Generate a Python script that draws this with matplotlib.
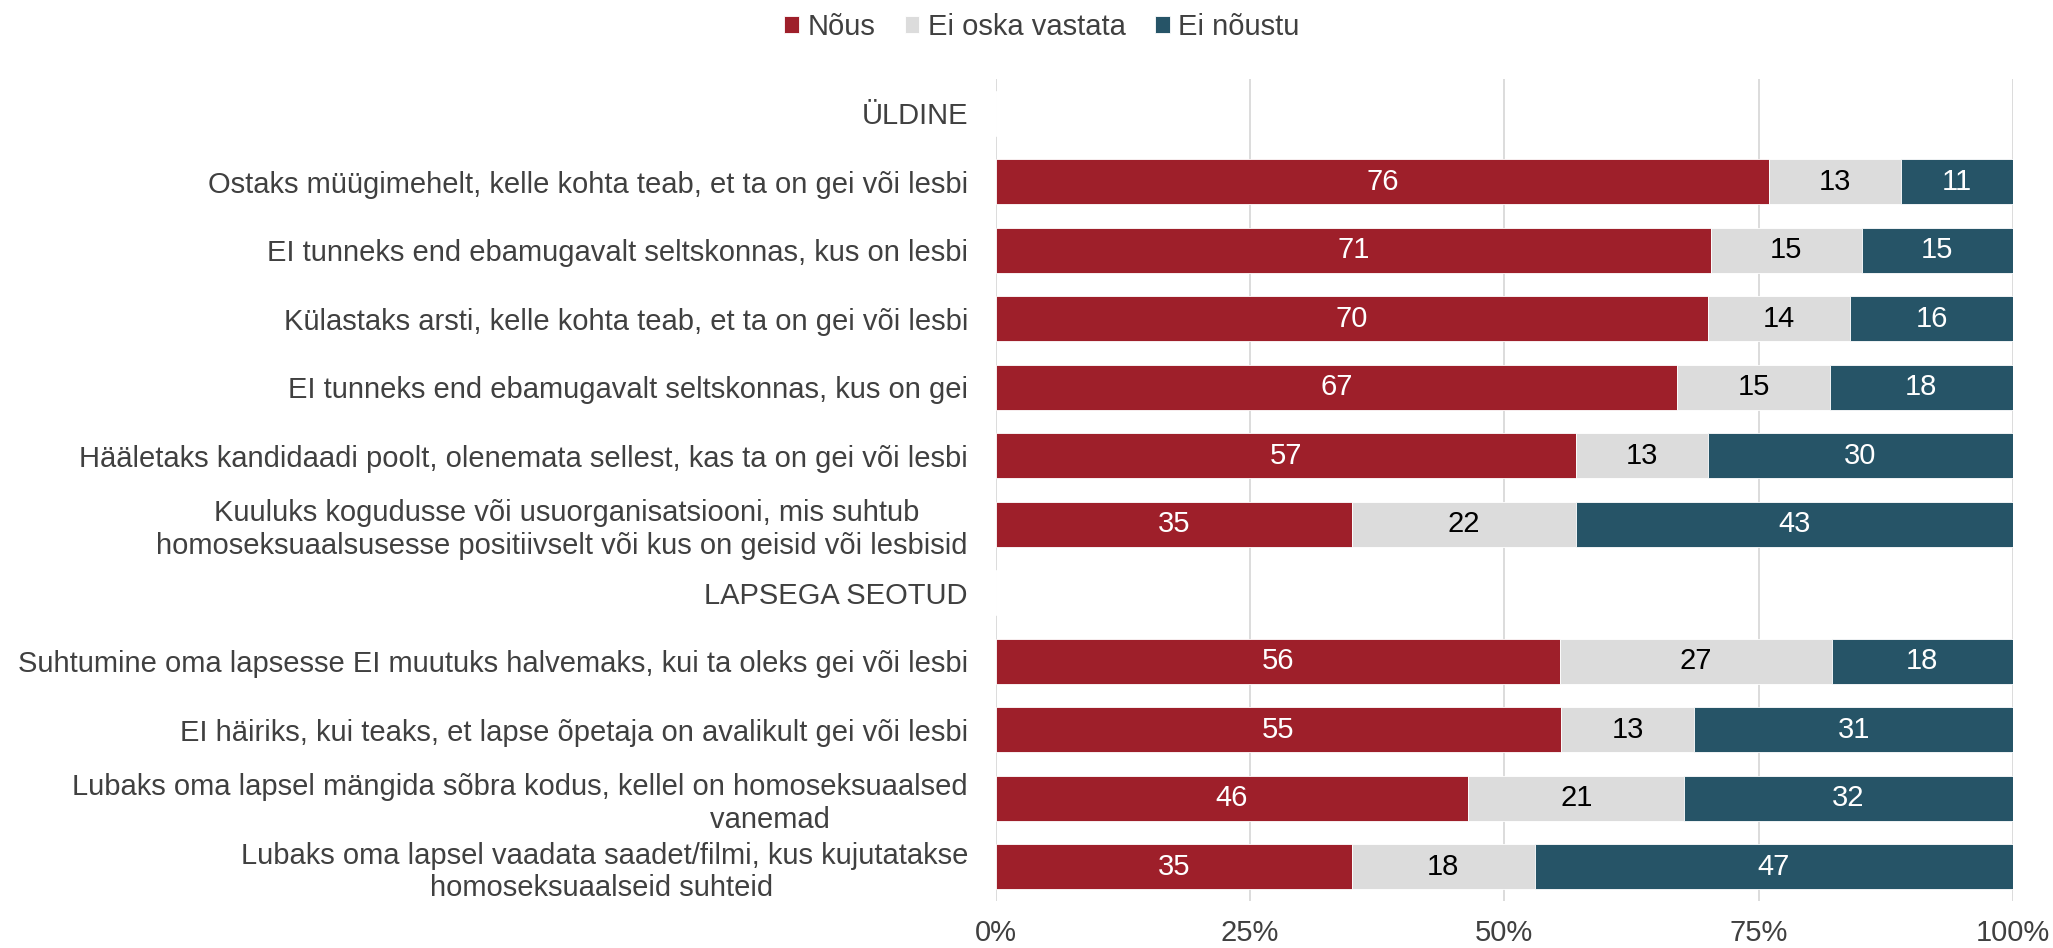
import matplotlib
matplotlib.use("Agg")
import matplotlib.pyplot as plt
import numpy as np

plt.rcParams['font.family'] = ['Liberation Sans', 'DejaVu Sans']

categories = [
    "ÜLDINE",
    "Ostaks müügimehelt, kelle kohta teab, et ta on gei või lesbi",
    "EI tunneks end ebamugavalt seltskonnas, kus on lesbi",
    "Külastaks arsti, kelle kohta teab, et ta on gei või lesbi",
    "EI tunneks end ebamugavalt seltskonnas, kus on gei",
    "Hääletaks kandidaadi poolt, olenemata sellest, kas ta on gei või lesbi",
    "Kuuluks kogudusse või usuorganisatsiooni, mis suhtub" + " " * 6 + "\nhomoseksuaalsusesse positiivselt või kus on geisid või lesbisid",
    "LAPSEGA SEOTUD",
    "Suhtumine oma lapsesse EI muutuks halvemaks, kui ta oleks gei või lesbi",
    "EI häiriks, kui teaks, et lapse õpetaja on avalikult gei või lesbi",
    "Lubaks oma lapsel mängida sõbra kodus, kellel on homoseksuaalsed\nvanemad" + " " * 17,
    "Lubaks oma lapsel vaadata saadet/filmi, kus kujutatakse\nhomoseksuaalseid suhteid" + " " * 24,
]
nous = [None, 76, 71, 70, 67, 57, 35, None, 56, 55, 46, 35]
ei_oska = [None, 13, 15, 14, 15, 13, 22, None, 27, 13, 21, 18]
ei_noustu = [None, 11, 15, 16, 18, 30, 43, None, 18, 31, 32, 47]
series_names = ["Nõus", "Ei oska vastata", "Ei nõustu"]
colors = ["#9E1F2A", "#DCDCDC", "#265467"]
label_colors = ["white", "black", "white"]
xticks = [0, 25, 50, 75, 100]
xticklabels = ["0%", "25%", "50%", "75%", "100%"]

FS = 21
fig = plt.figure(figsize=(20.53, 9.48), dpi=100)
ax = fig.add_axes([0.485, 0.0496, 0.4955, 0.867])

n = len(categories)
y = np.arange(n)
series = [nous, ei_oska, ei_noustu]
totals = np.array([np.nan if nous[i] is None else nous[i] + ei_oska[i] + ei_noustu[i] for i in range(n)], dtype=float)
left = np.zeros(n)
for s, name, c, lc in zip(series, series_names, colors, label_colors):
    vals = np.array([np.nan if v is None else v for v in s], dtype=float)
    w = np.nan_to_num(vals / totals * 100)
    ax.barh(y, w, left=left, height=0.655, color=c, label=name, edgecolor='white', linewidth=0.6, zorder=3)
    for i in range(n):
        if not np.isnan(vals[i]):
            ax.text(left[i] + w[i] / 2, y[i], f"{int(vals[i])}", ha='center', va='center',
                    color=lc, fontsize=FS, zorder=4)
    left = left + w

ax.set_ylim(n - 0.5, -0.5)
ax.set_xlim(0, 100)
ax.set_yticks(y)
ax.set_yticklabels(categories, fontsize=FS, color='#404040', multialignment='right')
ax.set_xticks(xticks)
ax.set_xticklabels(xticklabels, fontsize=FS, color='#404040')
ax.tick_params(axis='y', length=0, pad=20)
ax.tick_params(axis='x', length=0, pad=13)
ax.grid(axis='x', color='#D9D9D9', linewidth=1.3, zorder=0)
for sp in ['top', 'right', 'left', 'bottom']:
    ax.spines[sp].set_visible(False)

handles, labels = ax.get_legend_handles_labels()
leg = fig.legend(handles, labels, loc='center', bbox_to_anchor=(0.5076, 0.972), ncol=3, frameon=False,
                 fontsize=FS, handlelength=0.5, handleheight=0.5, handletextpad=0.3, columnspacing=1.0)
for t in leg.get_texts():
    t.set_color('#404040')

fig.savefig("out.png", dpi=100)
